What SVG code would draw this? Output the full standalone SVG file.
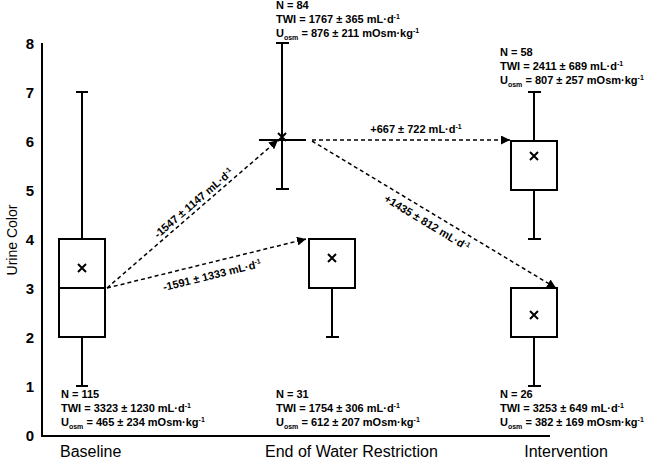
<svg xmlns="http://www.w3.org/2000/svg" width="646" height="464" viewBox="0 0 646 464">
<style>
text{font-family:"Liberation Sans",Arial,sans-serif;fill:#000}
.ann{font-size:11px;font-weight:bold}
.sm{font-size:7px}
.tick{font-size:15px;font-weight:bold;text-anchor:end}
.cat{font-size:16px}
.box{fill:#fff;stroke:#000;stroke-width:2}
.ln{stroke:#000;stroke-width:2;fill:none}
.dash{stroke:#000;stroke-width:1.5;stroke-dasharray:4 3;fill:none}
</style>
<defs>
<marker id="ah" viewBox="0 0 10 10" refX="10" refY="5" markerWidth="6" markerHeight="6" markerUnits="strokeWidth" orient="auto">
<path d="M0,0 L10,5 L0,10 Z" fill="#000"/>
</marker>
<g id="mx"><path d="M-4,-4 L4,4 M-4,4 L4,-4" stroke="#000" stroke-width="2"/></g>
</defs>

<g id="axes">
<path class="ln" d="M42,43 V436 H550"/>
<text class="tick" x="34" y="441">0</text>
<text class="tick" x="34" y="392">1</text>
<text class="tick" x="34" y="343">2</text>
<text class="tick" x="34" y="294">3</text>
<text class="tick" x="34" y="245">4</text>
<text class="tick" x="34" y="196">5</text>
<text class="tick" x="34" y="147">6</text>
<text class="tick" x="34" y="98">7</text>
<text class="tick" x="34" y="49">8</text>
<text x="0" y="0" font-size="14" text-anchor="middle" transform="translate(17,240) rotate(-90)">Urine Color</text>
<text class="cat" x="60" y="457">Baseline</text>
<text class="cat" x="265" y="457">End of Water Restriction</text>
<text class="cat" x="566" y="457" text-anchor="middle">Intervention</text>
</g>

<g id="baseline">
<path class="ln" d="M82,92 V386 M76,92 H88 M76,386 H88"/>
<rect class="box" x="59" y="239" width="46" height="98"/>
<path class="ln" d="M59,288 H105"/>
<use href="#mx" x="82" y="268"/>
<text class="ann" x="61" y="398">N = 115</text>
<text class="ann" x="61" y="412">TWI = 3323 ± 1230 mL·d<tspan class="sm" dy="-4">-1</tspan></text>
<text class="ann" x="61" y="426">U<tspan class="sm" dy="3">osm</tspan><tspan dy="-3"> = 465 ± 234 mOsm·kg</tspan><tspan class="sm" dy="-4">-1</tspan></text>
</g>

<g id="restriction84">
<path class="ln" d="M282,43 V190 M276,43 H289 M276,189 H289"/>
<path class="ln" d="M259,140 H306" stroke-width="2.5"/>
<use href="#mx" x="282" y="137"/>
<text class="ann" x="276" y="9">N = 84</text>
<text class="ann" x="276" y="23">TWI = 1767 ± 365 mL·d<tspan class="sm" dy="-4">-1</tspan></text>
<text class="ann" x="276" y="37">U<tspan class="sm" dy="3">osm</tspan><tspan dy="-3"> = 876 ± 211 mOsm·kg</tspan><tspan class="sm" dy="-4">-1</tspan></text>
</g>

<g id="restriction31">
<path class="ln" d="M332,288 V337 M326,337 H339"/>
<rect class="box" x="309" y="239" width="46" height="49"/>
<use href="#mx" x="332" y="258"/>
<text class="ann" x="276" y="398">N = 31</text>
<text class="ann" x="276" y="412">TWI = 1754 ± 306 mL·d<tspan class="sm" dy="-4">-1</tspan></text>
<text class="ann" x="276" y="426">U<tspan class="sm" dy="3">osm</tspan><tspan dy="-3"> = 612 ± 207 mOsm·kg</tspan><tspan class="sm" dy="-4">-1</tspan></text>
</g>

<g id="intervention58">
<path class="ln" d="M534,92 V239 M528,92 H541 M528,239 H541"/>
<rect class="box" x="511" y="141" width="46" height="49"/>
<use href="#mx" x="534" y="156"/>
<text class="ann" x="500" y="56">N = 58</text>
<text class="ann" x="500" y="70">TWI = 2411 ± 689 mL·d<tspan class="sm" dy="-4">-1</tspan></text>
<text class="ann" x="500" y="84">U<tspan class="sm" dy="3">osm</tspan><tspan dy="-3"> = 807 ± 257 mOsm·kg</tspan><tspan class="sm" dy="-4">-1</tspan></text>
</g>

<g id="intervention26">
<path class="ln" d="M534,337 V386 M528,386 H541"/>
<rect class="box" x="511" y="288" width="46" height="49"/>
<use href="#mx" x="534" y="315"/>
<text class="ann" x="500" y="398">N = 26</text>
<text class="ann" x="500" y="412">TWI = 3253 ± 649 mL·d<tspan class="sm" dy="-4">-1</tspan></text>
<text class="ann" x="500" y="426">U<tspan class="sm" dy="3">osm</tspan><tspan dy="-3"> = 382 ± 169 mOsm·kg</tspan><tspan class="sm" dy="-4">-1</tspan></text>
</g>

<g id="connectors">
<path class="dash" d="M107,288 L278,140" marker-end="url(#ah)"/>
<path class="dash" d="M107,288 L306,239" marker-end="url(#ah)"/>
<path class="dash" d="M312,140 L510,140" marker-end="url(#ah)"/>
<path class="dash" d="M312,141 L556,288" marker-end="url(#ah)"/>
<text class="ann" text-anchor="middle" transform="translate(196,206) rotate(-40.6)">-1547 ± 1147 mL·d<tspan class="sm" dy="-4">-1</tspan></text>
<text class="ann" text-anchor="middle" transform="translate(213,279) rotate(-13.8)">-1591 ± 1333 mL·d<tspan class="sm" dy="-4">-1</tspan></text>
<text class="ann" text-anchor="middle" x="416" y="133">+667 ± 722 mL·d<tspan class="sm" dy="-4">-1</tspan></text>
<text class="ann" text-anchor="middle" transform="translate(425,226) rotate(31.1)">+1435 ± 812 mL·d<tspan class="sm" dy="-4">-1</tspan></text>
</g>
</svg>
